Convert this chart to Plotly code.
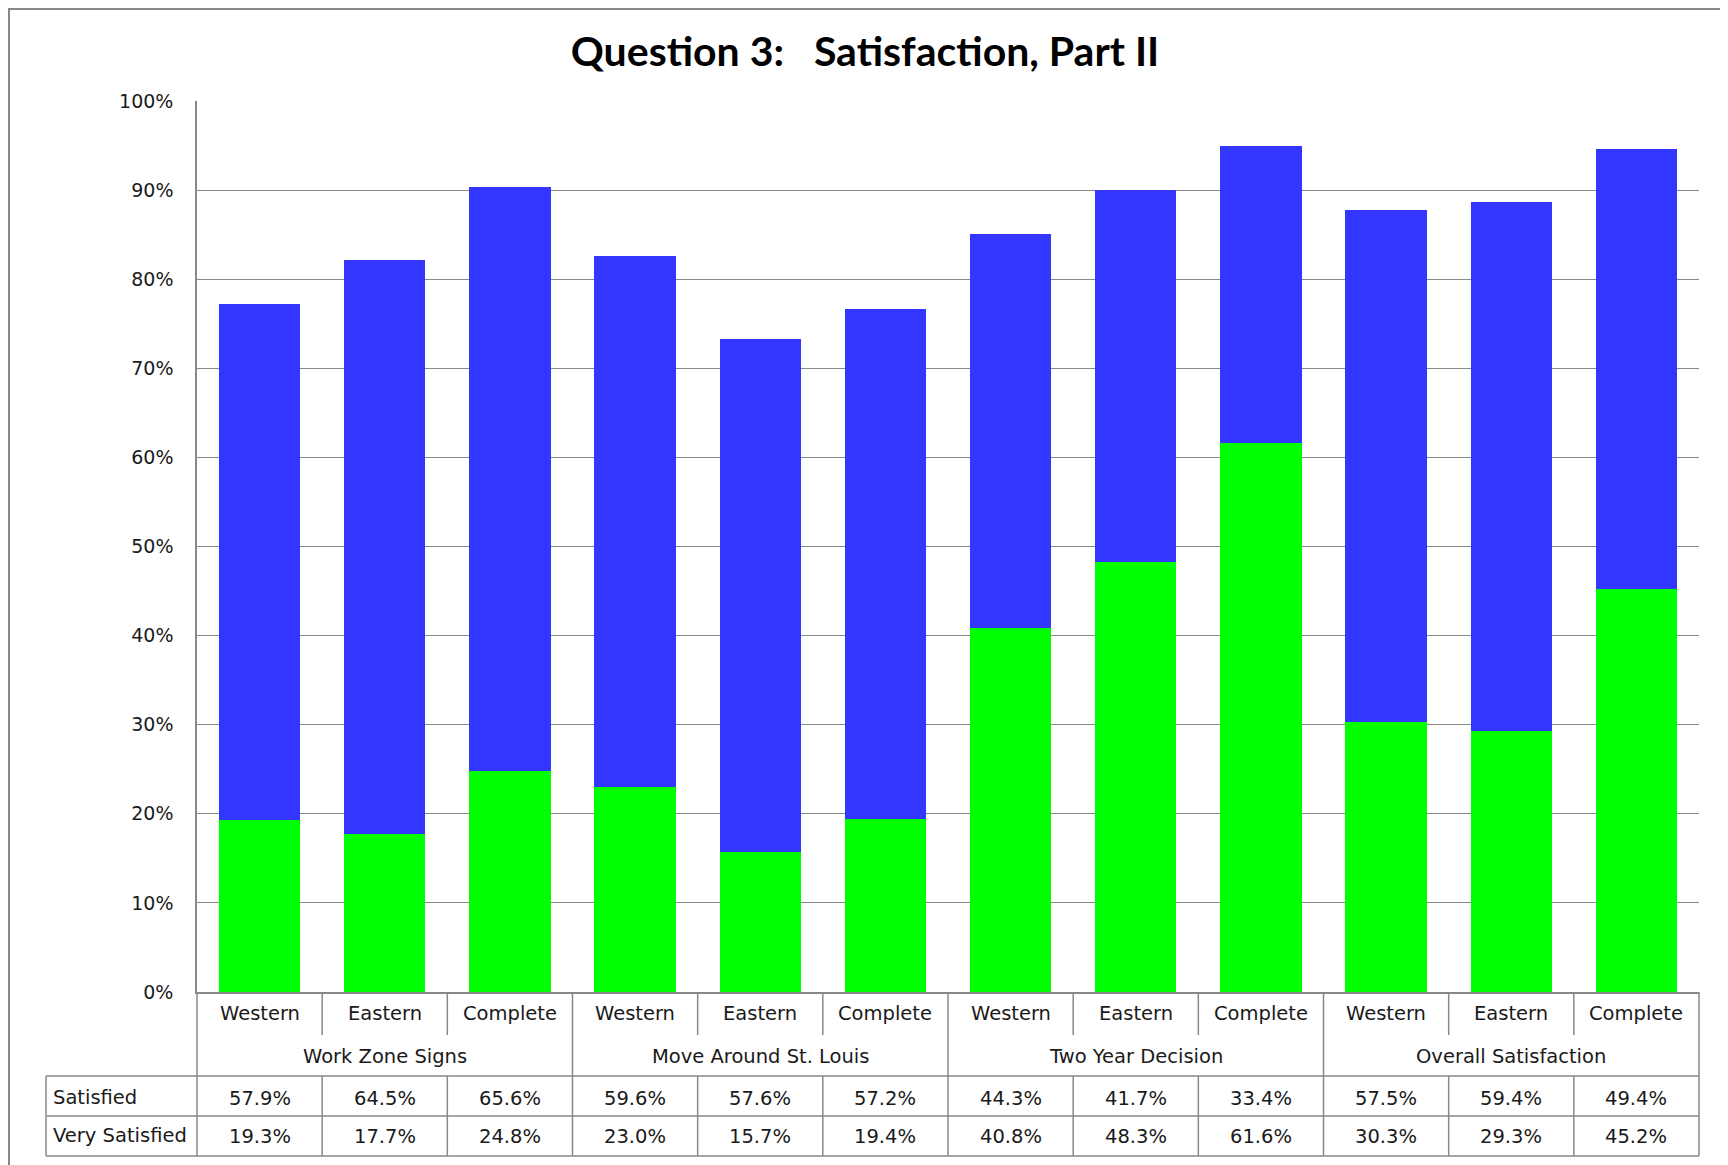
import plotly.graph_objects as go

# data
groups = ["Work Zone Signs", "Move Around St. Louis", "Two Year Decision", "Overall Satisfaction"]
regions = ["Western", "Eastern", "Complete"]
satisfied = [57.9, 64.5, 65.6, 59.6, 57.6, 57.2, 44.3, 41.7, 33.4, 57.5, 59.4, 49.4]
very_satisfied = [19.3, 17.7, 24.8, 23.0, 15.7, 19.4, 40.8, 48.3, 61.6, 30.3, 29.3, 45.2]
row_names = ["Satisfied", "Very Satisfied"]
y_ticks = [0, 10, 20, 30, 40, 50, 60, 70, 80, 90, 100]

W, H = 1728, 1165
OFF = 8  # page body margin


def px_x(p):  # screen pixel -> paper x
    return (p - OFF) / W


def px_y(p):  # screen pixel -> paper y
    return 1 - (p - OFF) / H


categories = [f"{g} | {r}" for g in groups for r in regions]
n = len(categories)

GREY = "#888888"
TXT = "#1a1a1a"
FONT = "DejaVu Sans"

fig = go.Figure()
fig.add_trace(go.Bar(x=categories, y=[v / 100 for v in very_satisfied], name=row_names[1],
                     marker=dict(color="#00ff00", line=dict(width=0))))
fig.add_trace(go.Bar(x=categories, y=[v / 100 for v in satisfied], name=row_names[0],
                     marker=dict(color="#3236ff", line=dict(width=0))))

# table geometry (screen pixels)
axis_y, div_end, row1, row2, bottom = 992, 1035, 1076, 1116, 1156
label_left, plot_left, plot_right, plot_top = 46, 197, 1699, 101

shapes = []
line = dict(color=GREY, width=1.5)
# short dividers between regions
for i in range(n):
    if i % 3:
        shapes.append(dict(type="line", xref="x", yref="paper", x0=i - 0.5, x1=i - 0.5,
                           y0=px_y(axis_y), y1=px_y(div_end), line=line))
        shapes.append(dict(type="line", xref="x", yref="paper", x0=i - 0.5, x1=i - 0.5,
                           y0=px_y(row1), y1=px_y(bottom), line=line))
# group dividers (full height)
for i in range(3, n, 3):
    shapes.append(dict(type="line", xref="x", yref="paper", x0=i - 0.5, x1=i - 0.5,
                       y0=px_y(axis_y), y1=px_y(bottom), line=line))
# table edges
for xp in (plot_left, plot_right):
    shapes.append(dict(type="line", xref="paper", yref="paper", x0=px_x(xp), x1=px_x(xp),
                       y0=px_y(axis_y), y1=px_y(bottom), line=line))
shapes.append(dict(type="line", xref="paper", yref="paper", x0=px_x(label_left), x1=px_x(label_left),
                   y0=px_y(row1), y1=px_y(bottom), line=line))
for yp in (row1, row2, bottom):
    shapes.append(dict(type="line", xref="paper", yref="paper", x0=px_x(label_left), x1=px_x(plot_right),
                       y0=px_y(yp), y1=px_y(yp), line=line))
# outer chart border
shapes.append(dict(type="rect", xref="paper", yref="paper", x0=px_x(9), x1=px_x(1725),
                   y0=-0.01, y1=px_y(9), line=dict(color=GREY, width=2)))

annotations = []
tf = dict(family=FONT, size=19.5, color=TXT)
for i, c in enumerate(categories):
    annotations.append(dict(x=c, y=px_y(1013), xref="x", yref="paper", text=regions[i % 3],
                            yanchor="middle", showarrow=False, font=tf))
for g, name in enumerate(groups):
    annotations.append(dict(x=categories[3 * g + 1], y=px_y(1056), xref="x", yref="paper",
                            text=name, yanchor="middle", showarrow=False, font=tf))
for vals, yc, label in ((satisfied, 1098, row_names[0]), (very_satisfied, 1136, row_names[1])):
    annotations.append(dict(x=px_x(51), y=px_y(yc - 1), xref="paper", yref="paper", text=label,
                            xanchor="left", yanchor="middle", showarrow=False, font=tf))
    for c, v in zip(categories, vals):
        annotations.append(dict(x=c, y=px_y(yc), xref="x", yref="paper", text=f"{v:.1f}%",
                                yanchor="middle", showarrow=False, font=tf))

fig.update_layout(
    width=W, height=H,
    margin=dict(l=0, r=0, t=0, b=0, pad=0, autoexpand=False),
    barmode="stack", bargap=0.35,
    showlegend=False,
    plot_bgcolor="white", paper_bgcolor="white",
    title=dict(text="Question 3:\u00a0\u00a0 Satisfaction, Part II", x=px_x(865), xanchor="center",
               y=px_y(52), yanchor="middle", automargin=False,
               font=dict(family="Lato", size=41, color="black", weight="bold")),
    xaxis=dict(domain=[px_x(plot_left), px_x(plot_right)], showticklabels=False, automargin=False,
               showline=True, linecolor=GREY, linewidth=1.5, showgrid=False, fixedrange=True),
    yaxis=dict(domain=[px_y(axis_y), px_y(plot_top)], range=[0, 1], automargin=False,
               tickvals=[t / 100 for t in y_ticks], tickformat=".0%",
               gridcolor=GREY, gridwidth=1.3, showline=True, linecolor=GREY, linewidth=1.5,
               zeroline=False, ticklabelstandoff=18,
               tickfont=dict(family=FONT, size=19, color=TXT)),
    shapes=shapes,
    annotations=annotations,
)

fig.write_html("out.html")
